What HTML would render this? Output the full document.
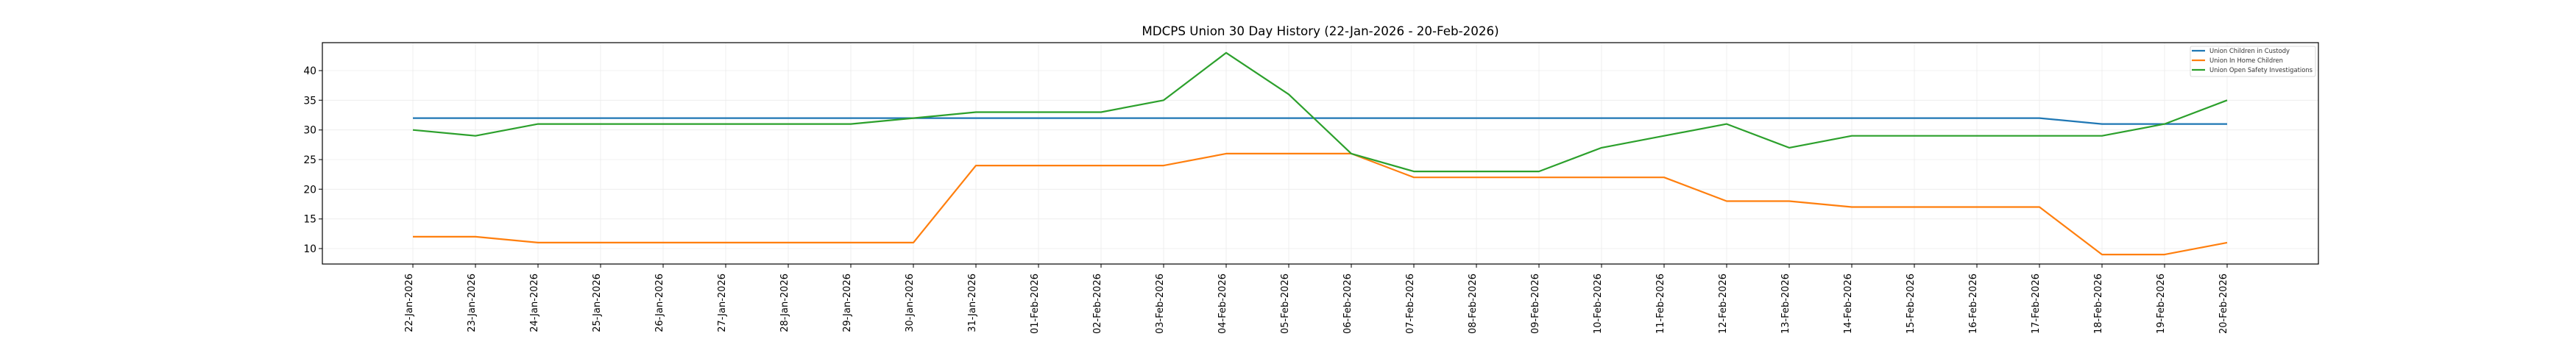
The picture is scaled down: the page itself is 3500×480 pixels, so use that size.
<!DOCTYPE html>
<html><head><style>html,body{margin:0;padding:0;background:#fff}svg{display:block}</style></head>
<body>
<svg width="3500" height="480" xmlns="http://www.w3.org/2000/svg" font-family="'DejaVu Sans','Liberation Sans',sans-serif">
<rect width="3500" height="480" fill="#fff"/>
<text x="1794" y="48" font-size="16.7" text-anchor="middle" fill="#000">MDCPS Union 30 Day History (22-Jan-2026 - 20-Feb-2026)</text>
<g stroke="#ebebeb" stroke-width="0.8">
<line x1="438" x2="3150" y1="338" y2="338"/><line x1="438" x2="3150" y1="297.7" y2="297.7"/><line x1="438" x2="3150" y1="257.3" y2="257.3"/><line x1="438" x2="3150" y1="217" y2="217"/><line x1="438" x2="3150" y1="176.7" y2="176.7"/><line x1="438" x2="3150" y1="136.3" y2="136.3"/><line x1="438" x2="3150" y1="96" y2="96"/>
<path d="M561 58V359M646 58V359M731 58V359M816 58V359M901 58V359M986 58V359M1071 58V359M1156 58V359M1241 58V359M1326 58V359M1411 58V359M1496 58V359M1581 58V359M1666 58V359M1751 58V359M1836 58V359M1921 58V359M2006 58V359M2091 58V359M2176 58V359M2261 58V359M2346 58V359M2431 58V359M2516 58V359M2601 58V359M2686 58V359M2771 58V359M2856 58V359M2941 58V359M3026 58V359"/>
</g>
<g fill="none" stroke-width="2.2" stroke-linejoin="round">
<polyline stroke="#1f77b4" points="561,160.6 2771,160.6 2856,168.6 3026,168.6"/>
<polyline stroke="#ff7f0e" points="561,321.9 646,321.9 731,329.9 1241,329.9 1326,225.1 1581,225.1 1666,208.9 1836,208.9 1921,241.2 2261,241.2 2346,273.5 2431,273.5 2516,281.5 2771,281.5 2856,346.1 2941,346.1 3026,329.9"/>
<polyline stroke="#2ca02c" points="561,176.7 646,184.7 731,168.6 1156,168.6 1241,160.6 1326,152.5 1496,152.5 1581,136.3 1666,71.8 1751,128.3 1836,208.9 1921,233.1 2091,233.1 2176,200.9 2261,184.7 2346,168.6 2431,200.9 2516,184.7 2856,184.7 2941,168.6 3026,136.3"/>
</g>
<rect x="438" y="58" width="2712" height="301" fill="none" stroke="#000" stroke-width="1.2"/>
<g stroke="#000" stroke-width="1">
<path d="M433 338H438M433 297.7H438M433 257.3H438M433 217H438M433 176.7H438M433 136.3H438M433 96H438"/>
<path d="M561 359v5M646 359v5M731 359v5M816 359v5M901 359v5M986 359v5M1071 359v5M1156 359v5M1241 359v5M1326 359v5M1411 359v5M1496 359v5M1581 359v5M1666 359v5M1751 359v5M1836 359v5M1921 359v5M2006 359v5M2091 359v5M2176 359v5M2261 359v5M2346 359v5M2431 359v5M2516 359v5M2601 359v5M2686 359v5M2771 359v5M2856 359v5M2941 359v5M3026 359v5"/>
</g>
<g font-size="13.9" text-anchor="end" fill="#000">
<text x="430" y="343">10</text><text x="430" y="302.7">15</text><text x="430" y="262.3">20</text><text x="430" y="222">25</text><text x="430" y="181.7">30</text><text x="430" y="141.3">35</text><text x="430" y="101">40</text>
</g>
<g font-size="13" text-anchor="end" fill="#000">
<text transform="translate(560,372) rotate(-90)">22-Jan-2026</text>
<text transform="translate(645,372) rotate(-90)">23-Jan-2026</text>
<text transform="translate(730,372) rotate(-90)">24-Jan-2026</text>
<text transform="translate(815,372) rotate(-90)">25-Jan-2026</text>
<text transform="translate(900,372) rotate(-90)">26-Jan-2026</text>
<text transform="translate(985,372) rotate(-90)">27-Jan-2026</text>
<text transform="translate(1070,372) rotate(-90)">28-Jan-2026</text>
<text transform="translate(1155,372) rotate(-90)">29-Jan-2026</text>
<text transform="translate(1240,372) rotate(-90)">30-Jan-2026</text>
<text transform="translate(1325,372) rotate(-90)">31-Jan-2026</text>
<text transform="translate(1410,372) rotate(-90)">01-Feb-2026</text>
<text transform="translate(1495,372) rotate(-90)">02-Feb-2026</text>
<text transform="translate(1580,372) rotate(-90)">03-Feb-2026</text>
<text transform="translate(1665,372) rotate(-90)">04-Feb-2026</text>
<text transform="translate(1750,372) rotate(-90)">05-Feb-2026</text>
<text transform="translate(1835,372) rotate(-90)">06-Feb-2026</text>
<text transform="translate(1920,372) rotate(-90)">07-Feb-2026</text>
<text transform="translate(2005,372) rotate(-90)">08-Feb-2026</text>
<text transform="translate(2090,372) rotate(-90)">09-Feb-2026</text>
<text transform="translate(2175,372) rotate(-90)">10-Feb-2026</text>
<text transform="translate(2260,372) rotate(-90)">11-Feb-2026</text>
<text transform="translate(2345,372) rotate(-90)">12-Feb-2026</text>
<text transform="translate(2430,372) rotate(-90)">13-Feb-2026</text>
<text transform="translate(2515,372) rotate(-90)">14-Feb-2026</text>
<text transform="translate(2600,372) rotate(-90)">15-Feb-2026</text>
<text transform="translate(2685,372) rotate(-90)">16-Feb-2026</text>
<text transform="translate(2770,372) rotate(-90)">17-Feb-2026</text>
<text transform="translate(2855,372) rotate(-90)">18-Feb-2026</text>
<text transform="translate(2940,372) rotate(-90)">19-Feb-2026</text>
<text transform="translate(3025,372) rotate(-90)">20-Feb-2026</text>
</g>
<rect x="2976" y="63" width="170" height="41" rx="2" fill="#fff" fill-opacity="0.85" stroke="#d0d0d0" stroke-width="0.8"/>
<g stroke-width="2.2"><line x1="2978" x2="2996" y1="69" y2="69" stroke="#1f77b4"/><line x1="2978" x2="2996" y1="82" y2="82" stroke="#ff7f0e"/><line x1="2978" x2="2996" y1="95" y2="95" stroke="#2ca02c"/></g>
<g font-size="8.6" fill="#333"><text x="3002" y="72" textLength="109" lengthAdjust="spacingAndGlyphs">Union Children in Custody</text><text x="3002" y="85" textLength="100" lengthAdjust="spacingAndGlyphs">Union In Home Children</text><text x="3002" y="98" textLength="140" lengthAdjust="spacingAndGlyphs">Union Open Safety Investigations</text></g>
</svg>
</body></html>
